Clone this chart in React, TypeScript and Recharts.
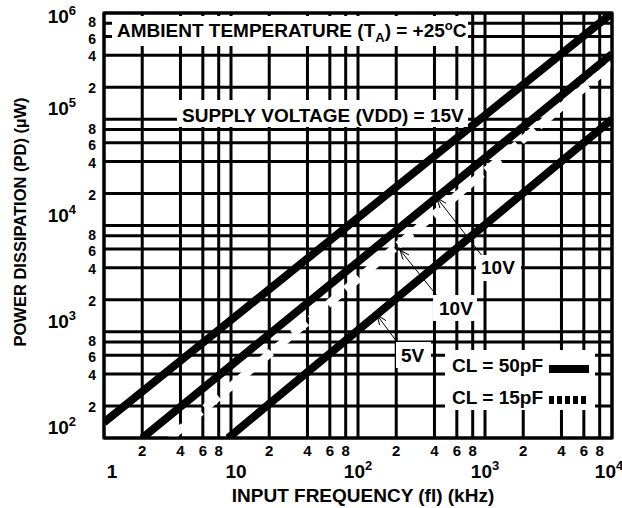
import { CartesianGrid, Line, LineChart, XAxis, YAxis } from "recharts";

// input frequency (kHz) grid / tick values
const xTicks = [
  1, 2, 4, 6, 8, 10, 20, 40, 60, 80, 100, 200, 400, 600, 800, 1000, 2000, 4000,
  6000, 8000, 10000,
];
// power dissipation (µW) grid / tick values
const yTicks = [
  100, 200, 400, 600, 800, 1000, 2000, 4000, 6000, 8000, 10000, 20000, 40000,
  60000, 80000, 100000, 200000, 400000, 600000, 800000, 1000000,
];

// curves, read at the points where they leave the grid
const vdd15cl50 = [
  { f: 1, pd: 140 },
  { f: 10000, pd: 1000000 },
];
const vdd10cl50 = [
  { f: 2, pd: 100 },
  { f: 10000, pd: 410000 },
];
const vdd10cl15 = [
  { f: 3.3, pd: 100 },
  { f: 10000, pd: 330000 },
];
const vdd5cl50 = [
  { f: 9.5, pd: 100 },
  { f: 10000, pd: 100000 },
];

const FONT = "'Liberation Sans', Arial, sans-serif";

function split(v: number) {
  const e = Math.floor(Math.log10(v) + 1e-9);
  const m = Math.round(v / 10 ** e);
  return { e, m };
}

function XTick({ x, payload }: any) {
  const { e, m } = split(payload.value);
  const common = { fontFamily: FONT, fontWeight: 700, fill: "#000" };
  if (m !== 1) {
    return (
      <text x={x} y={456} textAnchor="middle" fontSize={15} {...common}>
        {m}
      </text>
    );
  }
  if (e === 0)
    return (
      <text x={x + 8} y={478} textAnchor="middle" fontSize={19} {...common}>
        1
      </text>
    );
  if (e === 1)
    return (
      <text x={x + 5} y={478} textAnchor="middle" fontSize={19} {...common}>
        10
      </text>
    );
  return (
    <text x={e === 4 ? x - 3 : x} y={478} textAnchor="middle" fontSize={19} {...common}>
      10
      <tspan dy={-8} fontSize={13}>
        {e}
      </tspan>
    </text>
  );
}

function YTick({ y, payload }: any) {
  const { e, m } = split(payload.value);
  const common = { fontFamily: FONT, fontWeight: 700, fill: "#000" };
  if (m !== 1) {
    // 8 and 6 sit close together; pull them apart a touch
    const dy = m === 8 ? 4 : m === 6 ? 7 : 6;
    return (
      <text x={96} y={y + dy} textAnchor="end" fontSize={14} {...common}>
        {m}
      </text>
    );
  }
  const base = y - 4 < 20 ? 23 : y - 4;
  return (
    <text x={76} y={base} textAnchor="end" fontSize={19} {...common}>
      10
      <tspan dy={-8} fontSize={13}>
        {e}
      </tspan>
    </text>
  );
}

function Overlay() {
  const t = { fontFamily: FONT, fontWeight: 700, fontSize: 19, fill: "#000" };
  return (
    <svg
      width={622}
      height={508}
      style={{ position: "absolute", left: 0, top: 0, pointerEvents: "none" }}
    >
      <defs>
        <marker
          id="arr"
          markerWidth={10}
          markerHeight={8}
          refX={10}
          refY={4}
          orient="auto"
          markerUnits="userSpaceOnUse"
        >
          <path d="M0,0 L10,4 L0,8" fill="none" stroke="#000" strokeWidth={1} />
        </marker>
      </defs>
      <rect x={104} y={13} width={508} height={425} fill="none" stroke="#000" strokeWidth={3} />

      <rect x={112} y={16} width={356} height={30} fill="#fff" />
      <text x={117} y={37} {...t}>
        AMBIENT TEMPERATURE (T
        <tspan dy={5} fontSize={13}>
          A
        </tspan>
        <tspan dy={-5}>) = +25</tspan>
        <tspan dy={-7} fontSize={13}>
          o
        </tspan>
        <tspan dy={7}>C</tspan>
      </text>

      <rect x={177} y={100} width={291} height={27} fill="#fff" />
      <text x={182} y={122} {...t}>
        SUPPLY VOLTAGE (VDD) = 15V
      </text>

      <line x1={483} y1={257} x2={437} y2={198} stroke="#000" strokeWidth={1} markerEnd="url(#arr)" />
      <line x1={438} y1={297} x2={400} y2={250} stroke="#000" strokeWidth={1} markerEnd="url(#arr)" />
      <line x1={397} y1={342} x2={377} y2={315} stroke="#000" strokeWidth={1} markerEnd="url(#arr)" />

      <rect x={476} y={255} width={45} height={26} fill="#fff" />
      <text x={481} y={274} {...t}>
        10V
      </text>
      <rect x={433} y={295} width={44} height={26} fill="#fff" />
      <text x={439} y={315} {...t}>
        10V
      </text>
      <rect x={396} y={342} width={35} height={26} fill="#fff" />
      <text x={401} y={362} {...t}>
        5V
      </text>

      <rect x={445} y={350} width={150} height={60} fill="#fff" />
      <text x={452} y={372} {...t}>
        CL = 50pF
      </text>
      <rect x={549} y={365} width={40} height={8} fill="#000" />
      <text x={452} y={404} {...t}>
        CL = 15pF
      </text>
      <line x1={549} y1={400} x2={589} y2={400} stroke="#000" strokeWidth={8} strokeDasharray="5 3" />

      <text
        transform="translate(26,222) rotate(-90)"
        textAnchor="middle"
        {...t}
        fontSize={16.5}
      >
        POWER DISSIPATION (PD) (µW)
      </text>
      <text x={363} y={502} textAnchor="middle" {...t}>
        INPUT FREQUENCY (fl) (kHz)
      </text>
    </svg>
  );
}

export default function App() {
  return (
    <div
      style={{
        position: "absolute",
        left: 0,
        top: 0,
        width: 622,
        height: 508,
        background: "#fff",
      }}
    >
      <LineChart
        width={622}
        height={508}
        margin={{ top: 13, right: 10, bottom: 0, left: 0 }}
      >
        <CartesianGrid
          stroke="#000"
          strokeWidth={3}
          horizontalValues={yTicks}
          verticalValues={xTicks}
        />
        <XAxis
          type="number"
          dataKey="f"
          scale="log"
          domain={[1, 10000]}
          ticks={xTicks}
          interval={0}
          height={70}
          tick={<XTick />}
          tickLine={false}
          axisLine={false}
          allowDataOverflow
        />
        <YAxis
          type="number"
          dataKey="pd"
          scale="log"
          domain={[100, 1000000]}
          ticks={yTicks}
          interval={0}
          width={104}
          tick={<YTick />}
          tickLine={false}
          axisLine={false}
          allowDataOverflow
        />
        <Line data={vdd15cl50} dataKey="pd" stroke="#000" strokeWidth={8} dot={false} activeDot={false} isAnimationActive={false} />
        <Line data={vdd10cl50} dataKey="pd" stroke="#000" strokeWidth={8} dot={false} activeDot={false} isAnimationActive={false} />
        <Line data={vdd10cl15} dataKey="pd" stroke="#fff" strokeWidth={8} strokeDasharray="18 5" dot={false} activeDot={false} isAnimationActive={false} />
        <Line data={vdd5cl50} dataKey="pd" stroke="#000" strokeWidth={8} dot={false} activeDot={false} isAnimationActive={false} />
      </LineChart>
      <Overlay />
    </div>
  );
}
